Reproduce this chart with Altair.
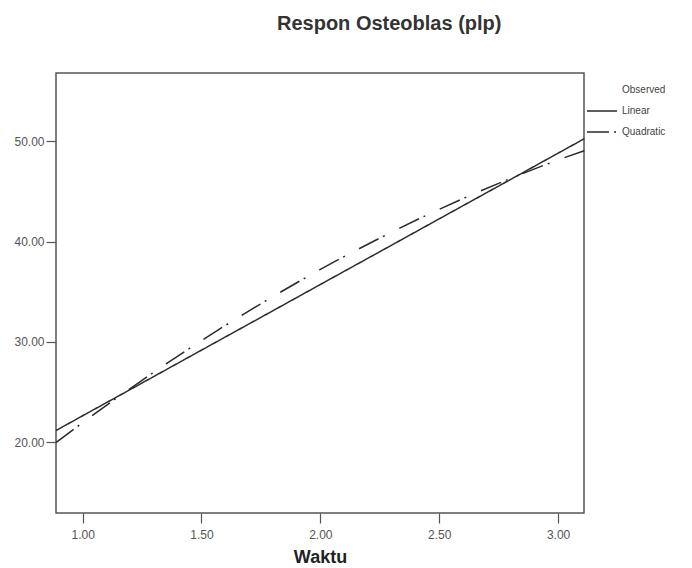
import altair as alt
import pandas as pd

# values
waktu = [0.888, 1.0, 1.25, 1.5, 1.75, 2.0, 2.25, 2.5, 2.75, 3.0, 3.11]
linear = [21.15, 22.62, 25.89, 29.17, 32.44, 35.72, 38.99, 42.27, 45.54, 48.82, 50.26]
quadratic = [19.95, 21.94, 26.16, 30.12, 33.80, 37.22, 40.35, 43.22, 45.81, 48.14, 49.07]
series = ["Observed", "Linear", "Quadratic"]
x_ticks = [1.0, 1.5, 2.0, 2.5, 3.0]
y_ticks = [20, 30, 40, 50]
x_domain = [0.888, 3.109]
y_domain = [12.92, 56.82]

df = pd.DataFrame({
    "Waktu": waktu + waktu,
    "value": linear + quadratic,
    "series": ["Linear"] * len(waktu) + ["Quadratic"] * len(waktu),
})

FONT = "Liberation Sans"

legend_kw = dict(
    title=None,
    orient="none",
    legendX=540,
    legendY=11,
    symbolType="M-3,0H3",
    symbolSize=100,
    symbolStrokeWidth=1.5,
    labelFontSize=10,
    labelFont=FONT,
    labelColor="#444444",
    labelOffset=14,
    rowPadding=10,
    padding=0,
)

chart = alt.Chart(df).mark_line(strokeWidth=1.5, interpolate="monotone").encode(
    x=alt.X(
        "Waktu:Q",
        scale=alt.Scale(domain=x_domain, nice=False, zero=False),
        axis=alt.Axis(
            values=x_ticks, format=".2f", title="Waktu", grid=False, domain=False,
            tickSize=10, tickColor="#555555", tickWidth=1.2,
            labelFontSize=12, labelFont=FONT, labelColor="#555555", labelPadding=6,
            titleFontSize=18, titleFont=FONT, titleFontWeight="bold",
            titleColor="#222222", titlePadding=8,
        ),
    ),
    y=alt.Y(
        "value:Q",
        scale=alt.Scale(domain=y_domain, nice=False, zero=False),
        axis=alt.Axis(
            values=y_ticks, format=".2f", title=None, grid=False, domain=False,
            tickSize=10, tickColor="#555555", tickWidth=1.2,
            labelFontSize=12, labelFont=FONT, labelColor="#555555", labelPadding=2,
        ),
    ),
    color=alt.Color(
        "series:N",
        scale=alt.Scale(domain=series, range=["#ffffff", "#2a2a2a", "#2a2a2a"]),
        legend=alt.Legend(**legend_kw),
    ),
    strokeDash=alt.StrokeDash(
        "series:N",
        scale=alt.Scale(domain=series, range=[[1, 0], [1, 0], [22, 5, 2, 16]]),
        legend=alt.Legend(**legend_kw),
    ),
).properties(
    width=528,
    height=440,
    title=alt.TitleParams(
        "Respon Osteoblas (plp)",
        anchor="start", frame="group", dx=221, offset=23,
        baseline="alphabetic", fontSize=20, font=FONT, fontWeight="bold",
        color="#333333",
    ),
    autosize=alt.AutoSizeParams(type="none"),
    padding={"left": 48, "top": 65, "right": 100, "bottom": 52},
).configure_view(
    stroke="#555555", strokeWidth=1.5, fill="white"
)

chart.save("out.html", embed_options={"renderer": "svg", "actions": False})
